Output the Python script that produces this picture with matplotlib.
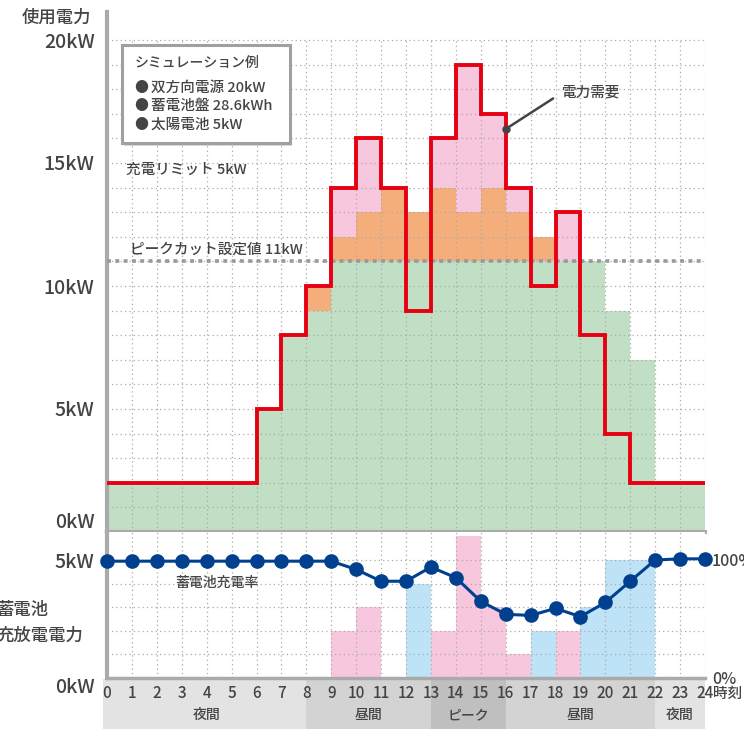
import numpy as np
import matplotlib.pyplot as plt
from matplotlib.patches import Rectangle
import matplotlib.transforms as mtransforms

plt.rcParams['font.family'] = ['Noto Sans CJK JP', 'DejaVu Sans']
plt.rcParams['font.weight'] = 'medium'

# hourly data (kW), hour 0..23
hours = np.arange(25)
demand = [2, 2, 2, 2, 2, 2, 5, 8, 10, 14, 16, 14, 9, 16, 19, 17, 14, 10, 13, 8, 4, 2, 2, 2]
supply = [2, 2, 2, 2, 2, 2, 5, 8, 9, 11, 11, 11, 11, 11, 11, 11, 11, 11, 11, 11, 9, 7, 2, 2]
grid_charge = [0, 0, 0, 0, 0, 0, 0, 0, 1, 1, 2, 3, 2, 3, 2, 3, 2, 1, 0, 0, 0, 0, 0, 0]
discharge = [0, 0, 0, 0, 0, 0, 0, 0, 0, 2, 3, 0, 0, 2, 6, 3, 1, 0, 2, 0, 0, 0, 0, 0]
charge = [0, 0, 0, 0, 0, 0, 0, 0, 0, 0, 0, 0, 4, 0, 0, 0, 0, 2, 0, 3, 5, 5, 0, 0]
# state of charge (%), hour 0..24
soc = [99, 99, 99, 99, 99, 99, 99, 99, 99, 99, 92, 82, 82, 94, 85, 65, 54, 53, 59, 52, 64, 82, 100, 101, 101]
peak_cut = 11
periods = ['夜間', '昼間', 'ピーク', '昼間', '夜間']
period_edges = [-0.15, 8, 13, 16, 22, 24]
period_colors = ['#e3e3e3', '#d3d3d3', '#bfbfbf', '#d3d3d3', '#e3e3e3']

W, H = 744, 729
GREEN, ORANGE, PINK, BLUE = '#c1dfc4', '#f4ae7b', '#f6c7dd', '#bee3f6'
RED, NAVY, GRID, TXT = '#e60012', '#00408f', '#aaaaaa', '#444444'

fig = plt.figure(figsize=(W / 100, H / 100), dpi=100)


def px(x, y):
    return x / W, 1 - y / H


x = np.arange(24)
ax1 = fig.add_axes([107 / W, (H - 532) / H, 598 / W, 520 / H])
ax1.set_xlim(0, 24)
ax1.set_ylim(0, 520 / 24.6)
ax1.bar(x, supply, width=1, align='edge', color=GREEN, zorder=2)
ax1.bar(x, grid_charge, width=1, align='edge', bottom=supply, color=ORANGE, zorder=2)
ax1.bar(x, discharge, width=1, align='edge',
        bottom=np.array(supply) + np.array(grid_charge), color=PINK, zorder=2)
dots = (0, (1, 2.5))
ax1.hlines(range(1, 21), 0, 24, colors=GRID, linestyles=dots, lw=0.9, zorder=3)
ax1.vlines(range(1, 25), 0, 20, colors=GRID, linestyles=dots, lw=0.9, zorder=3)
ax1.plot([0, 24], [peak_cut, peak_cut], color='#999999', lw=2.6,
         linestyle=(0, (1.1, 1.2)), zorder=4)
ax1.stairs(demand, hours, baseline=None, color=RED, lw=2.8, zorder=5)

ax1.set_xticks([])
ax1.set_yticks([0, 5, 10, 15, 20])
ax1.set_yticklabels(['0kW', '5kW', '10kW', '15kW', '20kW'], fontsize=14, color=TXT)
ax1.get_yticklabels()[0].set_va('bottom')
ax1.tick_params(axis='y', length=0, pad=9)
for s in ['top', 'right']:
    ax1.spines[s].set_visible(False)
ax1.spines['left'].set_color(GRID)
ax1.spines['left'].set_linewidth(3)
ax1.spines['bottom'].set_color(GRID)
ax1.spines['bottom'].set_linewidth(3)

ax1.annotate('電力需要', xy=(16.03, 16.4), xytext=(18.25, 17.85), fontsize=10.5, color=TXT,
             va='center', ha='left',
             arrowprops=dict(arrowstyle='-', color=TXT, lw=1.8, shrinkA=5, shrinkB=0,
                             relpos=(0, 0.5)))
ax1.plot(16.03, 16.4, 'o', color=TXT, ms=5, zorder=6)

# bottom panel
ax2 = fig.add_axes([107 / W, (H - 678) / H, 598 / W, 146 / H])
ax2.set_xlim(0, 24)
ax2.set_ylim(0, 146 / 23.6)
ax2.bar(x, discharge, width=1, align='edge', color=PINK, zorder=2)
ax2.bar(x, charge, width=1, align='edge', color=BLUE, zorder=2)
ax2.hlines(range(1, 6), 0, 24, colors=GRID, linestyles=dots, lw=0.9, zorder=3)
ax2.vlines(range(1, 25), 0, 146 / 23.6, colors=GRID, linestyles=dots, lw=0.9, zorder=3)
ax2.set_xticks(range(25))
ax2.set_xticklabels([str(h) for h in range(25)], fontsize=11, color=TXT)
ax2.tick_params(axis='x', length=0, pad=5)
ax2.set_yticks([0, 5])
ax2.set_yticklabels(['0kW', '5kW'], fontsize=14, color=TXT)
ax2.get_yticklabels()[0].set_va('top')
ax2.tick_params(axis='y', length=0, pad=9)
for s in ['top', 'right']:
    ax2.spines[s].set_visible(False)
ax2.spines['left'].set_color(GRID)
ax2.spines['left'].set_linewidth(3)
ax2.spines['bottom'].set_color(GRID)
ax2.spines['bottom'].set_linewidth(2.5)

ax3 = ax2.twinx()
ax3.set_ylim(0, 146 / 23.6 / 5 * 100)
ax3.plot(hours, soc, color=NAVY, lw=2.2, marker='o', ms=9.5, clip_on=False, zorder=5)
ax3.set_yticks([0, 100])
ax3.set_yticklabels(['0%', '100%'], fontsize=11.5, color=TXT)
ax3.tick_params(axis='y', length=0, pad=5)
for s in ax3.spines.values():
    s.set_visible(False)
ax2.annotate('時刻', xy=(24, 0), xytext=(6, -11.5), textcoords='offset points',
             fontsize=10.5, color=TXT, ha='left', va='center', annotation_clip=False)

# period band below the axis
trans = mtransforms.blended_transform_factory(ax2.transData, fig.transFigure)
band_h = (H - 679) / H
for i, name in enumerate(periods):
    a, b = period_edges[i], period_edges[i + 1]
    ax2.add_patch(Rectangle((a, 0), b - a, band_h, transform=trans, facecolor=period_colors[i],
                            edgecolor='none', clip_on=False, zorder=0))
    ax2.text((max(a, 0) + b) / 2, 1 - 715 / H, name, transform=trans, fontsize=10,
             color=TXT, ha='center', va='center')

# legend box
shadow = Rectangle(px(124, 146), 168 / W, 98 / H, transform=fig.transFigure,
                   facecolor='#d8d8d8', edgecolor='none', zorder=9)
box = Rectangle(px(122, 143), 168 / W, 98 / H, transform=fig.transFigure,
                facecolor='white', edgecolor='#a0a0a0', lw=2.2, zorder=10)
fig.add_artist(shadow)
fig.add_artist(box)
fig.text(*px(135, 63), 'シミュレーション例', fontsize=10, color=TXT, va='center', zorder=11)
for yy, t in zip([88, 106, 125], ['双方向電源 20kW', '蓄電池盤 28.6kWh', '太陽電池 5kW']):
    fig.text(*px(134, yy), '●', fontsize=10, color=TXT, va='center', zorder=11)
    fig.text(*px(151, yy), t, fontsize=10.5, color=TXT, va='center', zorder=11)

fig.text(*px(126, 170), '充電リミット 5kW', fontsize=10.5, color=TXT, va='center', zorder=11)
fig.text(*px(130, 250), 'ピークカット設定値 11kW', fontsize=10.5, color=TXT, va='center', zorder=11)
fig.text(*px(175, 583), '蓄電池充電率', fontsize=10, color=TXT, va='center', zorder=11)
fig.text(*px(22, 18), '使用電力', fontsize=12.5, color=TXT, va='center')
fig.text(*px(-4, 610), '蓄電池', fontsize=12.5, color=TXT, va='center')
fig.text(*px(-4, 636), '充放電電力', fontsize=12.5, color=TXT, va='center')

fig.savefig('out.png', dpi=100)
